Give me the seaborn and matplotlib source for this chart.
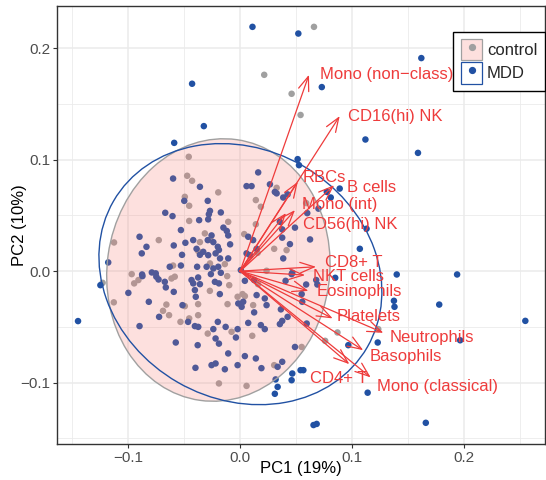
import numpy as np
import pandas as pd
import matplotlib
matplotlib.use("Agg")
import matplotlib.pyplot as plt
import seaborn as sns
from matplotlib.patches import Ellipse, Patch
from matplotlib.lines import Line2D
from matplotlib.legend_handler import HandlerTuple
from matplotlib.ticker import MultipleLocator, FuncFormatter

# ---------------- data ----------------
control_pc1 = [0.0215, 0.046, 0.054, 0.066, 0.059, 0.1235, 0.087, 0.076, 0.055,
               -0.046, -0.0474, -0.043, -0.0495, -0.0456, -0.0456, -0.0728, -0.1128, -0.060, -0.097,
               -0.123, -0.0948, -0.091, -0.0614, -0.0585, -0.113, -0.066, -0.069, -0.0636, -0.0495,
               -0.0376, -0.0456, -0.0534, -0.0376,
               0.0326, -0.0196, 0.014, 0.0185, -0.0107, 0.014, -0.0316, -0.0265, -0.036, 0.0036,
               0.0156, 0.0304, 0.0415, 0.0236, -0.0376, -0.027, -0.0137,
               -0.0116, -0.0271, -0.0098, 0.016, -0.0023, 0.0021, 0.0042, -0.0113, 0.0116, -0.029,
               -0.0077, 0.0108, 0.0304, -0.019, 0.0057]
control_pc2 = [0.176, 0.159, 0.140, 0.219, 0.061, -0.052, -0.055, -0.0625, -0.068,
               0.1025, 0.0855, 0.081, 0.0666, 0.0586, 0.045, 0.0278, 0.0257, 0.005, -0.0027,
               -0.0105, -0.011, -0.008, -0.0066, -0.005, -0.028, -0.030, -0.0356, -0.0395, -0.0314,
               -0.0296, -0.0424, -0.0455, -0.0395,
               0.0747, 0.0706, 0.0637, 0.0577, 0.0442, 0.042, 0.0338, 0.028, 0.026, 0.0332,
               0.0164, 0.020, 0.0188, 0.0003, 0.018, 0.0069, 0.0063,
               -0.0045, -0.0177, -0.0126, -0.0117, -0.023, -0.0206, -0.0224, -0.0296, -0.0305, -0.056,
               -0.0544, -0.058, -0.0843, -0.1007, -0.1029]

mdd_pc1 = [0.011, 0.052, -0.043, -0.0325, -0.059, 0.162, 0.073, 0.112, 0.159, 0.089, 0.0775, 0.081,
           0.113, 0.107, 0.0625, 0.060, 0.070, 0.140, 0.194, 0.085, 0.059, 0.068, 0.069, 0.1375,
           0.138, 0.178, 0.255, 0.123, 0.1967, 0.0967, 0.0595, 0.0565, 0.054, 0.114, 0.166, 0.0656,
           0.0684, -0.145, -0.118, -0.125, 0.0514, 0.0526,
           -0.060, -0.036, -0.050, -0.067, -0.0605, -0.0367, -0.053, -0.090, -0.0838, -0.088, -0.0594,
           -0.049, -0.042, -0.039, -0.052, -0.036, -0.063, -0.053, -0.0385, -0.079, -0.0755, -0.0877,
           -0.0874, -0.075, -0.073, -0.0674, -0.0665, -0.0594, -0.100, -0.0817, -0.0725, -0.0516,
           -0.0435, -0.042, -0.0405, -0.0397, -0.0466, -0.0405, -0.0375, -0.090, -0.0576, -0.038, -0.040,
           0.0161, 0.0057, 0.0102, 0.0266, 0.031, 0.0326, 0.0424, 0.0385, -0.029, -0.027, -0.028,
           -0.0173, -0.0286, -0.015, -0.012, -0.0107, -0.0256, -0.029, -0.024, -0.020, -0.019, -0.009,
           0.0072, 0.0116, 0.0147, 0.0057, 0.0087, 0.0355, 0.0376, 0.0376, 0.049, 0.0445, 0.0385,
           0.0466, -0.033, -0.0286, -0.022, -0.018, -0.030, -0.024, -0.0196, -0.0107, 0.0006,
           -0.0262, -0.0173, -0.0226, -0.019, -0.0182, 0.0042, 0.0125, -0.036, -0.0017, 0.0027, 0.0013,
           0.0125, 0.0147, 0.022, 0.0236, -0.020, -0.024, -0.013, -0.0023, -0.0038, 0.0072, 0.0185,
           0.022, 0.0355, 0.0376, -0.022, -0.019, -0.0107, 0.0042, 0.014, -0.0256, -0.022, -0.0137,
           -0.0023, 0.019, 0.0335, 0.0376, 0.0317, 0.0335, 0.031, 0.046, 0.0466, 0.049, 0.0424,
           0.0364, -0.0376, 0.046, 0.0406, 0.055, 0.0555]
mdd_pc2 = [0.219, 0.213, 0.168, 0.130, 0.115, 0.191, 0.165, 0.118, 0.106, 0.074, 0.071, 0.066,
           0.038, 0.020, 0.0284, 0.052, 0.056, -0.003, -0.003, -0.006, -0.012, -0.008, -0.012, -0.0266,
           -0.032, -0.030, -0.0446, -0.064, -0.062, -0.0664, -0.047, -0.0888, -0.0888, -0.109, -0.136, -0.138,
           -0.137, -0.0448, 0.0078, -0.0126, 0.1004, 0.095,
           0.083, 0.0756, 0.063, 0.0523, 0.0493, 0.0457, 0.0368, 0.0308, 0.0218, 0.0159, 0.023,
           0.0254, 0.0278, 0.020, 0.0146, 0.0146, 0.0039, 0.005, 0.0039, -0.0012, -0.002, -0.003,
           -0.0045, -0.005, -0.0075, -0.0096, -0.0146, -0.0186, -0.0195, -0.0275, -0.041, -0.0305,
           -0.008, -0.011, -0.017, -0.023, -0.0455, -0.0493, -0.050, -0.0493, -0.064, -0.0664, -0.0867,
           0.0885, 0.0762, 0.0762, 0.0778, 0.071, 0.0697, 0.0688, 0.066, 0.063, 0.054, 0.051,
           0.0526, 0.0464, 0.039, 0.036, 0.032, 0.032, 0.0278, 0.026, 0.0218, 0.019, 0.024,
           0.0308, 0.0278, 0.020, 0.0159, 0.0143, 0.0442, 0.0374, 0.030, 0.039, 0.0242, 0.0114,
           -0.0015, 0.0173, 0.0143, 0.0159, 0.0114, 0.0039, 0.0024, 0.0039, 0.0114, 0.0009,
           -0.0027, -0.0015, -0.0096, -0.011, -0.0206, -0.0087, -0.008, -0.0117, -0.029, -0.0275, -0.032,
           -0.037, -0.0215, -0.0245, -0.0305, -0.0455, -0.052, -0.050, -0.052, -0.0595, -0.0464, -0.0484,
           -0.052, -0.0475, -0.0446, -0.0604, -0.065, -0.0738, -0.0762, -0.0783, -0.0843, -0.0828, -0.088,
           -0.0843, -0.087, -0.0858, -0.0813, -0.0971, -0.1038, -0.110, -0.0978, -0.0918, -0.068, -0.041,
           -0.0343, -0.0057, -0.0027, -0.0087, -0.0206, -0.0275]

var_names = ["Mono (non\u2212class)", "CD16(hi) NK", "RBCs", "B cells", "Mono (int)", "CD56(hi) NK",
             "CD8+ T", "NKT cells", "Eosinophils", "Platelets", "Neutrophils", "Basophils",
             "CD4+ T", "Mono (classical)"]
load_pc1 = [0.0615, 0.089, 0.0515, 0.084, 0.049, 0.041, 0.0678, 0.058, 0.061, 0.0827, 0.128, 0.110, 0.0976, 0.1167]
load_pc2 = [0.176, 0.139, 0.080, 0.077, 0.0547, 0.052, 0.0039, -0.0036, -0.0177, -0.0424, -0.0553, -0.0709, -0.0834, -0.0953]
label_pc1 = [0.0714, 0.0964, 0.056, 0.0955, 0.055, 0.056, 0.0758, 0.0648, 0.0684, 0.0863, 0.134, 0.116, 0.0624, 0.122]
label_pc2 = [0.176, 0.139, 0.0843, 0.0753, 0.0599, 0.042, 0.0078, -0.0051, -0.0186, -0.0404, -0.0595, -0.0769, -0.0962, -0.1031]

groups = ["control", "MDD"]
# ellipses: center x, center y, width, height, angle
ell_cx = [-0.0195, 0.0002]
ell_cy = [0.001, -0.0027]
ell_w = [2 * 0.0995, 2 * 0.131]
ell_h = [2 * 0.1180, 2 * 0.112]
ell_ang = [-8, -30]

# ---------------- style ----------------
GRAY = "#A0A0A0"
BLUE = "#2151A3"
PINK = (0.973, 0.463, 0.427, 0.22)
RED = "#EE3B3B"

sns.set_theme(style="white")
plt.rcParams["font.family"] = ["Liberation Sans", "DejaVu Sans"]

fig, ax = plt.subplots(figsize=(5.46, 4.80), dpi=100)
fig.subplots_adjust(left=0.104, right=0.999, top=0.9875, bottom=0.075)

df = pd.concat([
    pd.DataFrame({"PC1": control_pc1, "PC2": control_pc2, "group": "control"}),
    pd.DataFrame({"PC1": mdd_pc1, "PC2": mdd_pc2, "group": "MDD"}),
], ignore_index=True)

sns.scatterplot(data=df, x="PC1", y="PC2", hue="group", palette={"control": GRAY, "MDD": BLUE},
                s=22, linewidth=0, legend=False, ax=ax, zorder=3)

# ellipses
ax.add_patch(Ellipse((ell_cx[0], ell_cy[0]), ell_w[0], ell_h[0], angle=ell_ang[0],
                     facecolor=PINK, edgecolor=GRAY, lw=1.0, zorder=4))
ax.add_patch(Ellipse((ell_cx[1], ell_cy[1]), ell_w[1], ell_h[1], angle=ell_ang[1],
                     facecolor="none", edgecolor=BLUE, lw=1.0, zorder=4))

# loading arrows and labels
for name, x, y, lx, ly in zip(var_names, load_pc1, load_pc2, label_pc1, label_pc2):
    ax.annotate("", xy=(x, y), xytext=(0, 0),
                arrowprops=dict(arrowstyle="->,head_length=0.85,head_width=0.32", color=RED,
                                lw=0.9, shrinkA=0, shrinkB=0), zorder=5)
    ax.text(lx, ly, name, color=RED, fontsize=12, ha="left", va="center", zorder=6)

ax.set_xlim(-0.164, 0.273)
ax.set_ylim(-0.155, 0.2377)
ax.xaxis.set_major_locator(MultipleLocator(0.1))
ax.yaxis.set_major_locator(MultipleLocator(0.1))
ax.xaxis.set_minor_locator(MultipleLocator(0.05))
ax.yaxis.set_minor_locator(MultipleLocator(0.05))
fmt = FuncFormatter(lambda v, p: ("%.1f" % v).replace("-", "\u2212") if abs(v) > 1e-9 else "0.0")
ax.xaxis.set_major_formatter(fmt)
ax.yaxis.set_major_formatter(fmt)
ax.grid(True, which="major", color="#EBEBEB", lw=1.1, zorder=0)
ax.grid(True, which="minor", color="#EBEBEB", lw=0.6, zorder=0)
ax.set_axisbelow(True)
ax.tick_params(axis="both", which="major", length=2.75, width=0.8, color="#333333",
               labelsize=11, labelcolor="#4D4D4D", bottom=True, left=True, direction="out", pad=2)
ax.tick_params(axis="both", which="minor", length=0)
for sp in ax.spines.values():
    sp.set_color("#333333")
    sp.set_linewidth(1.0)
ax.set_xlabel("PC1 (19%)", fontsize=12, color="black")
ax.set_ylabel("PC2 (10%)", fontsize=12, color="black")
ax.xaxis.set_label_coords(0.5, -25 / 438)
ax.xaxis.label.set_va("center")
ax.yaxis.set_label_coords(-37 / 488, 0.5)
ax.yaxis.label.set_va("center")

# legend
h_ctrl = (Patch(facecolor=PINK, edgecolor=GRAY, lw=0.9),
          Line2D([], [], marker="o", color=GRAY, linestyle="none", markersize=4.2))
h_mdd = (Patch(facecolor="white", edgecolor=BLUE, lw=0.9),
         Line2D([], [], marker="o", color=BLUE, linestyle="none", markersize=4.2))
leg = ax.legend([h_ctrl, h_mdd], groups, handler_map={tuple: HandlerTuple(ndivide=1, pad=0)},
                loc="upper right", bbox_to_anchor=(0.999, 0.941), borderaxespad=0,
                fancybox=False, framealpha=1, edgecolor="black", fontsize=12,
                handlelength=1.27, handleheight=1.57, handletextpad=0.3, labelspacing=0.12,
                borderpad=0.45)
leg.get_frame().set_linewidth(1.0)
leg.set_zorder(10)

fig.savefig("out.png", dpi=100)
